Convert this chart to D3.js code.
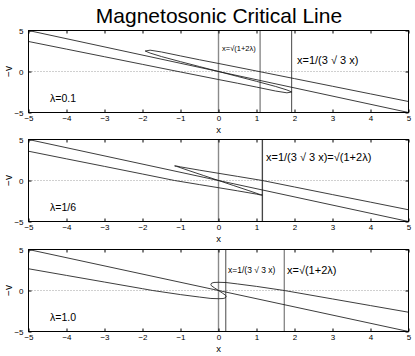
<!DOCTYPE html>
<html>
<head>
<meta charset="utf-8">
<script src="https://d3js.org/d3.v7.min.js"></script>
<style>
  body { margin: 0; background: #fff; }
  svg { display: block; }
  text { font-family: "Liberation Sans", Arial, Helvetica, sans-serif; fill: #000; }
  .tick text { font-size: 8px; }
  .frame { fill: none; stroke: #000; stroke-width: 1; }
  .curve { fill: none; stroke: #1a1a1a; stroke-width: 0.85; }
  .zero { stroke: #888; stroke-width: 0.8; stroke-dasharray: 1,2; }
</style>
</head>
<body>
<div id="chart"></div>
<script>
  // ---- data ----
  var xTicks = [-5, -4, -3, -2, -1, 0, 1, 2, 3, 4, 5];
  var yTicks = [-5, 0, 5];
  var lambdaLabels = ["λ=0.1", "λ=1/6", "λ=1.0"];

  // straight branch -v = -x, same in every panel
  var diagonal = [[-5, 5], [5, -5]];

  // folded branch, lambda = 0.1
  var sCurve1 = [[-5, 3.66], [-4, 2.73], [-3, 1.8], [-2, 0.87], [-1, -0.06], [0, -0.98], [0.5, -1.43],
    [1, -1.9], [1.5, -2.38], [1.8, -2.6], [1.93, -2.5], [1.8, -2.25], [1.5, -1.82], [1, -1.2],
    [0.5, -0.6], [0, 0], [-0.5, 0.6], [-1, 1.2], [-1.5, 1.82], [-1.8, 2.25], [-1.93, 2.5],
    [-1.8, 2.6], [-1.5, 2.38], [-1, 1.9], [-0.5, 1.43], [0, 0.98], [1, 0.06], [2, -0.87],
    [3, -1.8], [4, -2.73], [5, -3.66]];

  // folded branch, lambda = 1/6
  var sCurve2 = [[-5, 3.57], [-4, 2.64], [-3, 1.72], [-2, 0.79], [-1.155, 0], [-0.5, -0.5], [0, -0.88],
    [0.5, -1.26], [1, -1.66], [1.1, -1.76], [1.155, -1.78], [1.1, -1.72], [0.8, -1.24], [0.4, -0.62],
    [0, 0], [-0.4, 0.62], [-0.8, 1.24], [-1.1, 1.72], [-1.155, 1.78], [-1.1, 1.76], [-1, 1.66],
    [-0.5, 1.26], [0, 0.88], [0.5, 0.5], [1.155, 0], [2, -0.79], [3, -1.72], [4, -2.64], [5, -3.57]];

  // folded branch, lambda = 1
  var sCurve3 = [[-5, 2.65], [-4, 1.84], [-3, 1.03], [-2, 0.22], [-1.732, 0], [-1, -0.5], [-0.5, -0.8],
    [-0.2, -0.97], [0, -1.0], [0.12, -0.98], [0.18, -0.9], [0.2, -0.75], [0.19, -0.6], [0.1, -0.3],
    [0, 0], [-0.1, 0.3], [-0.19, 0.6], [-0.2, 0.75], [-0.18, 0.9], [-0.12, 0.98], [0, 1.0],
    [0.2, 0.97], [0.5, 0.8], [1, 0.5], [1.732, 0], [3, -1.03], [4, -1.84], [5, -2.65]];

  var sCurves = [sCurve1, sCurve2, sCurve3];

  // vertical markers: x = sqrt(1+2λ) and x = 1/(3√3λ)
  var sqrtLines = [1.095, 1.155, 1.732];
  var cubicLines = [1.925, 1.155, 0.192];

  // ---- layout ----
  var W = 415, H = 356;
  var panelTops = [30, 139, 249];
  var panelH = 82;

  var svg = d3.select("#chart").append("svg")
    .attr("width", W)
    .attr("height", H);

  var x = d3.scaleLinear().domain([-5, 5]).range([28.5, 408.5]);

  svg.append("text")
    .attr("x", 219)
    .attr("y", 23)
    .attr("text-anchor", "middle")
    .style("font-size", "21px")
    .text("Magnetosonic Critical Line");

  var annotations = [
    [{t: "x=√(1+2λ)", x: 222, y: 51, s: 7.5}, {t: "x=1/(3 √ 3 x)", x: 297, y: 64, s: 11}],
    [{t: "x=1/(3 √ 3 x)=√(1+2λ)", x: 266, y: 161, s: 11}],
    [{t: "x=1/(3 √ 3 x)", x: 228, y: 273, s: 8.5}, {t: "x=√(1+2λ)", x: 287, y: 274, s: 11}]
  ];

  var fmt = function(d) { return d < 0 ? "\u2212" + (-d) : d; };

  panelTops.forEach(function(top, i) {
    var bottom = top + panelH;
    var y = d3.scaleLinear().domain([-5, 5]).range([bottom + 0.5, top + 0.5]);
    var g = svg.append("g");

    // zero line
    g.append("line").attr("class", "zero")
      .attr("x1", x(-5)).attr("x2", x(5))
      .attr("y1", y(0)).attr("y2", y(0));

    // vertical lines
    g.append("line")
      .attr("x1", x(0)).attr("x2", x(0)).attr("y1", y(-5)).attr("y2", y(5))
      .attr("stroke", "#8a8a8a").attr("stroke-width", 1.4);
    g.append("line")
      .attr("x1", x(sqrtLines[i])).attr("x2", x(sqrtLines[i])).attr("y1", y(-5)).attr("y2", y(5))
      .attr("stroke", "#8a8a8a").attr("stroke-width", 1.4);
    g.append("line")
      .attr("x1", x(cubicLines[i])).attr("x2", x(cubicLines[i])).attr("y1", y(-5)).attr("y2", y(5))
      .attr("stroke", "#333").attr("stroke-width", 0.9);

    var line = d3.line().x(function(d) { return x(d[0]); }).y(function(d) { return y(d[1]); });

    g.append("path").attr("class", "curve").attr("d", line(diagonal));
    g.append("path").attr("class", "curve").attr("d", line(sCurves[i]));

    // axes, MATLAB-style ticks pointing in
    g.append("g").attr("class", "tick")
      .attr("transform", "translate(0," + y(-5) + ")")
      .call(d3.axisBottom(x).tickValues(xTicks).tickSizeInner(-3).tickSizeOuter(0).tickPadding(3).tickFormat(fmt))
      .call(function(a) { a.select(".domain").remove(); });
    g.append("g").attr("class", "tick")
      .attr("transform", "translate(0," + y(5) + ")")
      .call(d3.axisTop(x).tickValues(xTicks).tickSizeInner(-3).tickSizeOuter(0).tickFormat(""))
      .call(function(a) { a.select(".domain").remove(); });
    g.append("g").attr("class", "tick")
      .attr("transform", "translate(" + x(-5) + ",0)")
      .call(d3.axisLeft(y).tickValues(yTicks).tickSizeInner(-3).tickSizeOuter(0).tickPadding(5).tickFormat(fmt))
      .call(function(a) { a.select(".domain").remove(); });
    g.append("g").attr("class", "tick")
      .attr("transform", "translate(" + x(5) + ",0)")
      .call(d3.axisRight(y).tickValues(yTicks).tickSizeInner(-3).tickSizeOuter(0).tickFormat(""))
      .call(function(a) { a.select(".domain").remove(); });

    g.append("rect").attr("class", "frame")
      .attr("x", x(-5)).attr("y", y(5))
      .attr("width", x(5) - x(-5)).attr("height", y(-5) - y(5));

    // axis labels
    g.append("text")
      .attr("x", x(0)).attr("y", bottom + 21)
      .attr("text-anchor", "middle")
      .style("font-size", "9.5px")
      .text("x");
    g.append("text")
      .attr("transform", "translate(12," + y(0) + ") rotate(-90)")
      .attr("text-anchor", "middle")
      .style("font-size", "10px")
      .text("\u2212v");

    g.append("text")
      .attr("x", 50).attr("y", bottom - 10)
      .style("font-size", "10.5px")
      .text(lambdaLabels[i]);

    annotations[i].forEach(function(a) {
      g.append("text")
        .attr("x", a.x).attr("y", a.y)
        .style("font-size", a.s + "px")
        .text(a.t);
    });
  });
</script>
</body>
</html>
